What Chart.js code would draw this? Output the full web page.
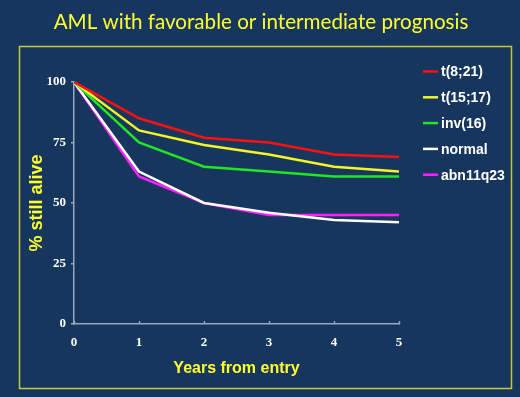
<!DOCTYPE html>
<html>
<head>
<meta charset="utf-8">
<script src="https://cdn.jsdelivr.net/npm/chart.js@4"></script>
<style>
  html, body { margin: 0; padding: 0; background: #17365D; }
  #wrap { width: 520px; height: 397px; position: relative; }
</style>
</head>
<body>
<div id="wrap"><canvas id="c" width="520" height="397"></canvas></div>
<script>
const titleText = 'AML with favorable or intermediate prognosis';
const xTitle = 'Years from entry';
const yTitle = '% still alive';
const years = [0, 1, 2, 3, 4, 5];
const seriesNames = ['t(8;21)', 't(15;17)', 'inv(16)', 'normal', 'abn11q23'];
const t821 = [100, 85, 77, 75, 70, 69];
const t1517 = [100, 80, 74, 70, 65, 63];
const inv16 = [100, 75, 65, 63, 61, 61];
const normal = [100, 63, 50, 46, 43, 42];
const abn11q23 = [100, 61, 50, 45, 45, 45];
const yTicks = [0, 25, 50, 75, 100];
const seriesColors = ['#ff1010', '#f4f428', '#22e622', '#ffffff', '#ff22ff'];

const seriesData = [t821, t1517, inv16, normal, abn11q23];
const datasets = seriesNames.map((name, i) => ({
  label: name,
  data: years.map((x, j) => ({ x: x, y: seriesData[i][j] })),
  borderColor: seriesColors[i],
  backgroundColor: seriesColors[i],
  borderWidth: 2.5,
  pointRadius: 0,
  tension: 0,
  fill: false
}));

const decor = {
  id: 'decor',
  beforeDraw(chart) {
    const ctx = chart.ctx;
    ctx.save();
    ctx.fillStyle = '#17365D';
    ctx.fillRect(0, 0, chart.width, chart.height);
    ctx.strokeStyle = '#c8c83c';
    ctx.lineWidth = 1.5;
    ctx.strokeRect(19.5, 46.5, 492, 342);
    ctx.fillStyle = '#ffff2e';
    ctx.font = '20.6px Lato, "Open Sans", sans-serif';
    ctx.textAlign = 'center';
    ctx.textBaseline = 'alphabetic';
    ctx.fillText(titleText, 261, 29);
    ctx.restore();
  },
  afterDraw(chart) {
    const ctx = chart.ctx;
    const xs = chart.scales.x;
    const area = chart.chartArea;
    ctx.save();
    ctx.strokeStyle = '#9aa6bc';
    ctx.lineWidth = 1.5;
    years.forEach(v => {
      const px = Math.round(xs.getPixelForValue(v)) + 0.5;
      ctx.beginPath();
      ctx.moveTo(px, area.bottom);
      ctx.lineTo(px, area.bottom - 3);
      ctx.stroke();
    });
    // legend
    ctx.font = 'bold 14px "Liberation Sans", Arial, sans-serif';
    ctx.textBaseline = 'middle';
    ctx.textAlign = 'left';
    chart.data.datasets.forEach((ds, i) => {
      const y = 71.5 + i * 25.8;
      ctx.strokeStyle = ds.borderColor;
      ctx.lineWidth = 2.5;
      ctx.beginPath();
      ctx.moveTo(423, y);
      ctx.lineTo(438, y);
      ctx.stroke();
      ctx.fillStyle = '#ffffff';
      ctx.fillText(ds.label, 441, y + 1);
    });
    ctx.restore();
  }
};

new Chart(document.getElementById('c'), {
  type: 'line',
  data: { datasets: datasets },
  options: {
    responsive: false,
    animation: false,
    devicePixelRatio: 1,
    layout: { padding: { left: 20, top: 82, right: 121, bottom: 9 } },
    plugins: { legend: { display: false }, title: { display: false }, tooltip: { enabled: false } },
    scales: {
      x: {
        type: 'linear',
        min: 0, max: 5,
        afterBuildTicks(scale) { scale.ticks = years.map(v => ({ value: v })); },
        afterFit(scale) { scale.height = 64; },
        grid: { display: false, drawTicks: false },
        border: { display: true, color: '#9aa6bc', width: 1.5 },
        ticks: {
          color: '#ffffff',
          padding: 11,
          font: { family: '"Liberation Serif", "Times New Roman", serif', size: 13, weight: 'bold' }
        },
        title: {
          display: true,
          text: xTitle,
          color: '#ffff2e',
          padding: { top: 0, bottom: 10 },
          font: { family: '"Liberation Sans", Arial, sans-serif', size: 16, weight: 'bold' }
        }
      },
      y: {
        type: 'linear',
        min: 0, max: 100,
        afterBuildTicks(scale) { scale.ticks = yTicks.map(v => ({ value: v })); },
        afterFit(scale) { scale.width = 54; },
        grid: { display: true, drawOnChartArea: false, drawTicks: true, tickLength: 3, color: '#9aa6bc', lineWidth: 1.5 },
        border: { display: true, color: '#9aa6bc', width: 1.5 },
        ticks: {
          color: '#ffffff',
          padding: 5,
          font: { family: '"Liberation Serif", "Times New Roman", serif', size: 13, weight: 'bold' }
        },
        title: {
          display: true,
          text: yTitle,
          color: '#ffff2e',
          padding: { top: 6, bottom: 0 },
          font: { family: '"Liberation Sans", Arial, sans-serif', size: 18, weight: 'bold' }
        }
      }
    }
  },
  plugins: [decor]
});
</script>
</body>
</html>
